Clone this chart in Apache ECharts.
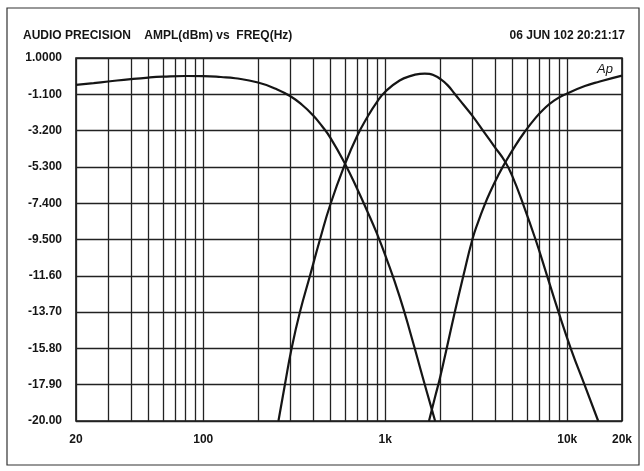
<!DOCTYPE html>
<html><head><meta charset="utf-8">
<script src="https://cdn.jsdelivr.net/npm/echarts@6/dist/echarts.min.js"></script>
<style>html,body{margin:0;padding:0;background:#fff}#c{width:644px;height:471px}</style>
</head><body><div id="c"></div>
<script>
// Frequencies (Hz) and amplitudes (dBm)
const lpFreq = [20, 25, 30, 40, 50, 60, 80, 100, 125, 150, 200, 250, 300, 350, 400, 450, 500, 600, 700, 800, 900, 1000, 1200, 1400, 1600, 1800, 1880];
const lpDb   = [-0.55, -0.45, -0.36, -0.22, -0.13, -0.08, -0.04, -0.05, -0.1, -0.17, -0.42, -0.78, -1.2, -1.72, -2.3, -2.95, -3.62, -5.1, -6.55, -7.9, -9.15, -10.4, -12.8, -15.2, -17.4, -19.3, -20];

const bpFreq = [259, 281, 306, 340, 386, 438, 500, 600, 700, 800, 900, 1000, 1200, 1400, 1550, 1650, 1750, 1850, 2000, 2200, 2400, 2700, 3000, 3500, 4000, 4560, 5000, 5700, 6700, 7700, 8900, 10500, 12500, 14800];
const bpDb   = [-20, -17.9, -15.8, -13.7, -11.6, -9.5, -7.46, -5.16, -3.53, -2.4, -1.55, -0.95, -0.3, -0.02, 0.08, 0.1, 0.08, 0.0, -0.2, -0.57, -1.05, -1.72, -2.32, -3.3, -4.15, -5.0, -5.85, -7.4, -9.5, -11.5, -13.6, -15.85, -17.95, -20];

const hpFreq = [1740, 1880, 2000, 2176, 2412, 2688, 3012, 3250, 3500, 3800, 4150, 4560, 5200, 5860, 6600, 7400, 8500, 10000, 12500, 15100, 20000];
const hpDb   = [-20, -18.6, -17.5, -15.8, -13.7, -11.6, -9.5, -8.45, -7.55, -6.68, -5.85, -5.05, -4.05, -3.25, -2.55, -1.98, -1.45, -1.05, -0.62, -0.36, -0.02];

// Axis ticks / labels
const xGrid = [20, 30, 40, 50, 60, 70, 80, 90, 100, 200, 300, 400, 500, 600, 700, 800, 900,
               1000, 2000, 3000, 4000, 5000, 6000, 7000, 8000, 9000, 10000, 20000];
const xLabelValues = [20, 100, 1000, 10000, 20000];
const xLabelTexts  = ['20', '100', '1k', '10k', '20k'];
const yTicks  = [1, -1.1, -3.2, -5.3, -7.4, -9.5, -11.6, -13.7, -15.8, -17.9, -20];
const yLabels = ['1.0000', '-1.100', '-3.200', '-5.300', '-7.400', '-9.500', '-11.60', '-13.70', '-15.80', '-17.90', '-20.00'];
const titleText = 'AUDIO PRECISION    AMPL(dBm) vs  FREQ(Hz)';
const dateText = '06 JUN 102 20:21:17';

function nearestLabel(v, vals, texts) {
  let best = 0, bd = Infinity;
  vals.forEach((t, i) => { const d = Math.abs(t - v); if (d < bd) { bd = d; best = i; } });
  return texts[best];
}
const pairs = (f, d) => f.map((x, i) => [x, d[i]]);
const FONT = 'Liberation Sans';
const INK = '#151515';

const chart = echarts.init(document.getElementById('c'), null, {renderer: 'canvas'});
const curveStyle = {color: INK, width: 2.2};
const option = {
  animation: false,
  backgroundColor: '#fff',
  title: [
    {text: titleText, left: 23, top: 30, padding: 0,
     textStyle: {fontFamily: FONT, fontWeight: 'bold', fontSize: 12, color: INK}},
    {text: dateText, right: 19, top: 30, padding: 0,
     textStyle: {fontFamily: FONT, fontWeight: 'bold', fontSize: 12, color: INK}}
  ],
  graphic: [
    {type: 'rect', shape: {x: 7, y: 8, width: 632, height: 457}, style: {fill: 'none', stroke: '#333', lineWidth: 1.2}, silent: true},
    {type: 'text', left: 597, top: 63, style: {text: 'Ap', font: 'italic 13px "Liberation Sans"', fill: INK}, silent: true}
  ],
  grid: {left: 76, top: 58, width: 546, height: 363, show: true, borderColor: INK, borderWidth: 1.6, backgroundColor: 'transparent'},
  xAxis: {
    type: 'log', logBase: 10, min: 20, max: 20000,
    axisLine: {show: false},
    axisTick: {show: false, customValues: xGrid},
    splitLine: {show: true, lineStyle: {color: '#222', width: 1.3}},
    minorTick: {show: false}, minorSplitLine: {show: false},
    axisLabel: {
      customValues: xLabelValues, margin: 13,
      formatter: v => nearestLabel(v, xLabelValues, xLabelTexts),
      fontFamily: FONT, fontWeight: 'bold', fontSize: 12, color: INK
    }
  },
  yAxis: {
    type: 'value', min: -20, max: 1,
    axisLine: {show: false},
    axisTick: {show: false, customValues: yTicks},
    splitLine: {show: true, lineStyle: {color: '#222', width: 1.3}},
    axisLabel: {
      customValues: yTicks, margin: 14,
      formatter: v => nearestLabel(v, yTicks, yLabels),
      fontFamily: FONT, fontWeight: 'bold', fontSize: 12, color: INK
    }
  },
  series: [
    {type: 'line', name: 'LP', data: pairs(lpFreq, lpDb), showSymbol: false, smooth: 0.5, lineStyle: curveStyle, clip: true},
    {type: 'line', name: 'BP', data: pairs(bpFreq, bpDb), showSymbol: false, smooth: 0.5, lineStyle: curveStyle, clip: true},
    {type: 'line', name: 'HP', data: pairs(hpFreq, hpDb), showSymbol: false, smooth: 0.5, lineStyle: curveStyle, clip: true}
  ]
};
chart.setOption(option);
</script>
</body></html>
